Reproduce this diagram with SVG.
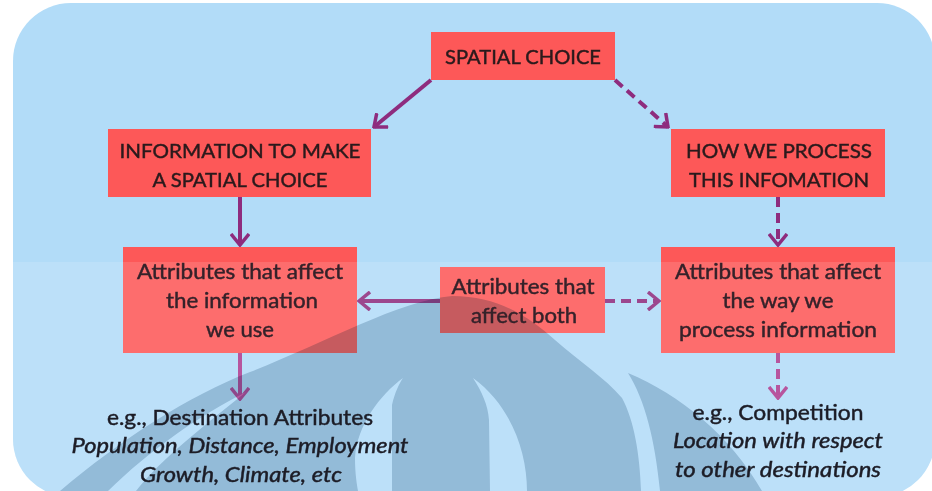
<svg xmlns="http://www.w3.org/2000/svg" width="932" height="491" viewBox="0 0 932 491">
  <style>
    .box { fill: #fd5858; }
    .cap { font-family: Lato, "Liberation Sans", sans-serif; font-size: 20px; fill: #2a1a1c; stroke: #2a1a1c; stroke-width: 0.45; text-anchor: middle; }
    .lbl { font-family: Lato, "Liberation Sans", sans-serif; font-size: 21px; fill: #35222a; stroke: #35222a; stroke-width: 0.45; text-anchor: middle; }
    .note { font-family: Lato, "Liberation Sans", sans-serif; font-size: 21px; fill: #1c1c26; stroke: #1c1c26; stroke-width: 0.45; text-anchor: middle; }
    .it { font-style: italic; }
    .link { fill: none; stroke: #8e2c7e; stroke-width: 4; }
    .low { stroke: #ad3c90; }
    .dash { stroke-dasharray: 10 6; }
  </style>
  <defs>
    <clipPath id="panel">
      <rect x="13" y="3" width="922" height="494" rx="58" ry="58"/>
    </clipPath>
    <marker id="head" viewBox="0 0 14 20" refX="12" refY="10" markerWidth="14" markerHeight="20" markerUnits="userSpaceOnUse" orient="auto">
      <path d="M1,1 L12,10 L1,19" fill="none" stroke="#8e2c7e" stroke-width="3.5" stroke-dasharray="none"/>
    </marker>
    <marker id="head-low" viewBox="0 0 14 20" refX="12" refY="10" markerWidth="14" markerHeight="20" markerUnits="userSpaceOnUse" orient="auto">
      <path d="M1,1 L12,10 L1,19" fill="none" stroke="#ad3c90" stroke-width="3.5" stroke-dasharray="none"/>
    </marker>
  </defs>

  <!-- page and panel -->
  <rect width="932" height="491" fill="#ffffff"/>
  <rect x="13" y="3" width="922" height="494" rx="58" ry="58" fill="#b2dcf8"/>

  <!-- nodes -->
  <g id="spatial-choice"><rect class="box" x="431" y="32" width="184" height="48"/></g>
  <g id="information"><rect class="box" x="108" y="129" width="263" height="68"/></g>
  <g id="processing"><rect class="box" x="671" y="129" width="214" height="68"/></g>
  <g id="attr-information"><rect class="box" x="123" y="247" width="234" height="106"/></g>
  <g id="attr-both"><rect class="box" x="440" y="267" width="165" height="66"/></g>
  <g id="attr-processing"><rect class="box" x="661" y="247" width="234" height="106"/></g>

  <!-- connectors -->
  <g id="connectors">
    <path class="link" d="M431,80 L374,127" marker-end="url(#head)"/>
    <path class="link dash" d="M615,80 L668,127" marker-end="url(#head)"/>
    <path class="link" d="M240,197 L240,245" marker-end="url(#head)"/>
    <path class="link dash" d="M778,197 L778,245" marker-end="url(#head)"/>
    <path class="link" d="M440,301 L359,301" marker-end="url(#head)"/>
    <path class="link dash" d="M605,301 L659,301" marker-end="url(#head)"/>
    <path class="link low" d="M240,353 L240,399" marker-end="url(#head-low)"/>
    <path class="link low dash" d="M778,353 L778,398" marker-end="url(#head-low)"/>
  </g>

  <!-- lighter lower half of the slide -->
  <rect x="13" y="262" width="922" height="235" fill="#ffffff" opacity="0.13" clip-path="url(#panel)"/>

  <!-- faint emblem watermark -->
  <g clip-path="url(#panel)" style="mix-blend-mode:multiply" fill="#c8d5de">
    <path fill-rule="evenodd" d="
      M60,491 C120,440 190,395 250,372 C320,345 400,300 452,296 C500,296 530,318 555,340 C580,362 605,378 622,398 C634,420 640,455 641,491 Z
      M108,491 C150,450 200,415 246,392 C205,425 160,460 136,491 Z
      M403,378 C380,395 357,425 355,458 C355,474 357,485 358,491 L392,491 L392,405 C395,392 399,384 403,378 Z
      M473,378 C482,392 488,405 489,420 L490,491 L527,491 C527,450 510,405 473,378 Z"/>
    <path d="M628,373 C680,395 730,435 762,491 L660,491 C655,440 645,400 628,373 Z"/>
  </g>

  <!-- node labels -->
  <text class="cap" x="523" y="64" textLength="156" lengthAdjust="spacingAndGlyphs">SPATIAL CHOICE</text>
  <text class="cap" x="240" y="158" textLength="241" lengthAdjust="spacingAndGlyphs">INFORMATION TO MAKE</text>
  <text class="cap" x="240" y="187" textLength="175" lengthAdjust="spacingAndGlyphs">A SPATIAL CHOICE</text>
  <text class="cap" x="779" y="158" textLength="186" lengthAdjust="spacingAndGlyphs">HOW WE PROCESS</text>
  <text class="cap" x="779" y="187" textLength="180" lengthAdjust="spacingAndGlyphs">THIS INFOMATION</text>

  <text class="lbl" x="240" y="279" textLength="206" lengthAdjust="spacingAndGlyphs">Attributes that affect</text>
  <text class="lbl" x="242" y="308" textLength="152" lengthAdjust="spacingAndGlyphs">the information</text>
  <text class="lbl" x="240" y="337" textLength="68" lengthAdjust="spacingAndGlyphs">we use</text>

  <text class="lbl" x="523" y="294" textLength="143" lengthAdjust="spacingAndGlyphs">Attributes that</text>
  <text class="lbl" x="524" y="323" textLength="106" lengthAdjust="spacingAndGlyphs">affect both</text>

  <text class="lbl" x="778" y="279" textLength="206" lengthAdjust="spacingAndGlyphs">Attributes that affect</text>
  <text class="lbl" x="778" y="308" textLength="111" lengthAdjust="spacingAndGlyphs">the way we</text>
  <text class="lbl" x="778" y="337" textLength="198" lengthAdjust="spacingAndGlyphs">process information</text>

  <!-- examples -->
  <text class="note" x="240" y="425" textLength="266" lengthAdjust="spacingAndGlyphs">e.g., Destination Attributes</text>
  <text class="note it" x="240" y="453" textLength="337" lengthAdjust="spacingAndGlyphs">Population, Distance, Employment</text>
  <text class="note it" x="241" y="482" textLength="202" lengthAdjust="spacingAndGlyphs">Growth, Climate, etc</text>

  <text class="note" x="778" y="420" textLength="171" lengthAdjust="spacingAndGlyphs">e.g., Competition</text>
  <text class="note it" x="778" y="448" textLength="210" lengthAdjust="spacingAndGlyphs">Location with respect</text>
  <text class="note it" x="778" y="477" textLength="206" lengthAdjust="spacingAndGlyphs">to other destinations</text>
</svg>
